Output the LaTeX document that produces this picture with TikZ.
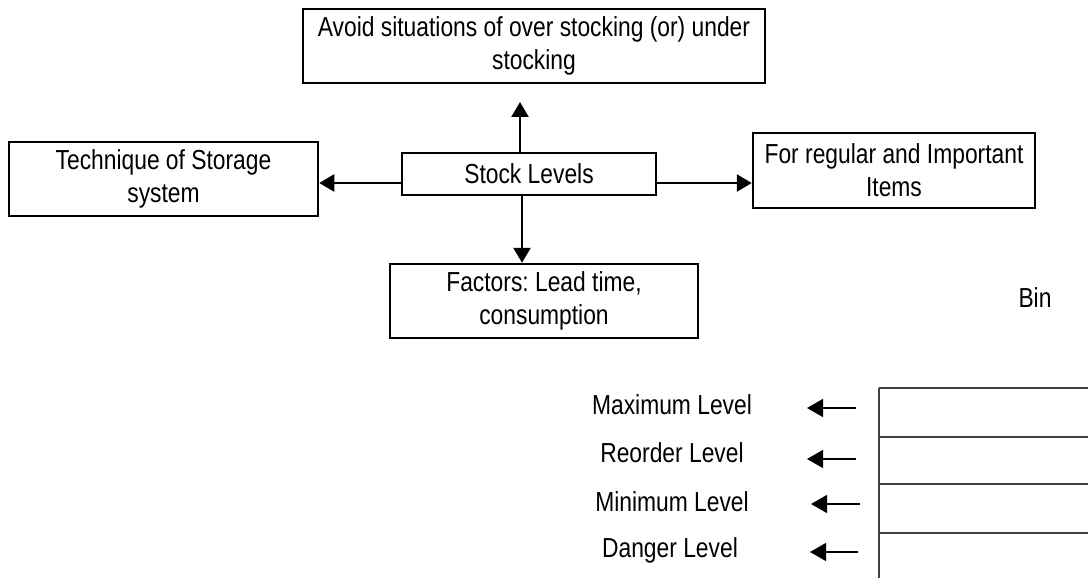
\documentclass[tikz,border=0pt]{standalone}
\usepackage{fontspec}
\setmainfont{Liberation Sans}[FakeStretch=0.83]
\usetikzlibrary{arrows.meta}
\frenchspacing
\begin{document}
\begin{tikzpicture}[x=1pt,y=-1pt,
  every node/.style={font=\fontsize{27.5}{33}\selectfont},
  box/.style={draw, line width=2.5pt, inner sep=0pt, align=center},
  link/.style={line width=2.5pt, -{Triangle[length=15pt,width=17pt]}},
  tag/.style={line width=1.3pt, -{Triangle[length=16pt,width=18pt]}},
  lbl/.style={inner sep=0pt, anchor=center},
  binline/.style={line width=1.2pt, draw=black!75}]
\useasboundingbox (0,0) rectangle (1088,578);

% central topic and its four boxes
\node[box, minimum width=254pt, minimum height=42pt] (stock) at (529,174) {Stock Levels};
\node[box, minimum width=462pt, minimum height=74pt] (avoid) at (534,46)
  {Avoid situations of over stocking (or) under\\stocking};
\node[box, minimum width=309pt, minimum height=74pt] (tech) at (163.5,179)
  {Technique of Storage\\system};
\node[box, minimum width=282pt, minimum height=75pt] (items) at (894,170.5)
  {For regular and Important\\Items};
\node[box, minimum width=308pt, minimum height=74pt] (factors) at (544,301)
  {Factors: Lead time,\\consumption};

\coordinate (upTip) at (520,102);
\draw[link] (stock.north -| upTip) -- (upTip);
\draw[link] ([yshift=-9pt]stock.west) -- ([yshift=-9pt]stock.west -| tech.east);
\draw[link] ([yshift=-9pt]stock.east) -- ([yshift=-9pt]stock.east -| items.west);
\draw[link] ([xshift=-7pt]stock.south) -- ([xshift=-7pt]stock.south |- factors.north);

% the bin and its levels
\node[lbl] (bin) at (1035,298) {Bin};
\coordinate (b0) at (879,388);
\coordinate (b1) at (879,437);
\coordinate (b2) at (879,484);
\coordinate (b3) at (879,533);
\coordinate (bEnd) at (879,578);
\draw[binline] (b0) -- (bEnd);
\foreach \c in {b0,b1,b2,b3} \draw[binline] (\c) -- (1088,0 |- \c);

\node[lbl] (max) at (672,405) {Maximum Level};
\node[lbl] (reo) at (672,453) {Reorder Level};
\node[lbl] (min) at (672,502) {Minimum Level};
\node[lbl] (dan) at (670,550) {Danger Level};

\coordinate (t1) at (856,408); \coordinate (h1) at (807,408);
\coordinate (t2) at (856,459); \coordinate (h2) at (807,459);
\coordinate (t3) at (860,504); \coordinate (h3) at (811,504);
\coordinate (t4) at (858,552); \coordinate (h4) at (810,552);
\draw[tag] (t1) -- (h1);
\draw[tag] (t2) -- (h2);
\draw[tag] (t3) -- (h3);
\draw[tag] (t4) -- (h4);
\end{tikzpicture}
\end{document}
